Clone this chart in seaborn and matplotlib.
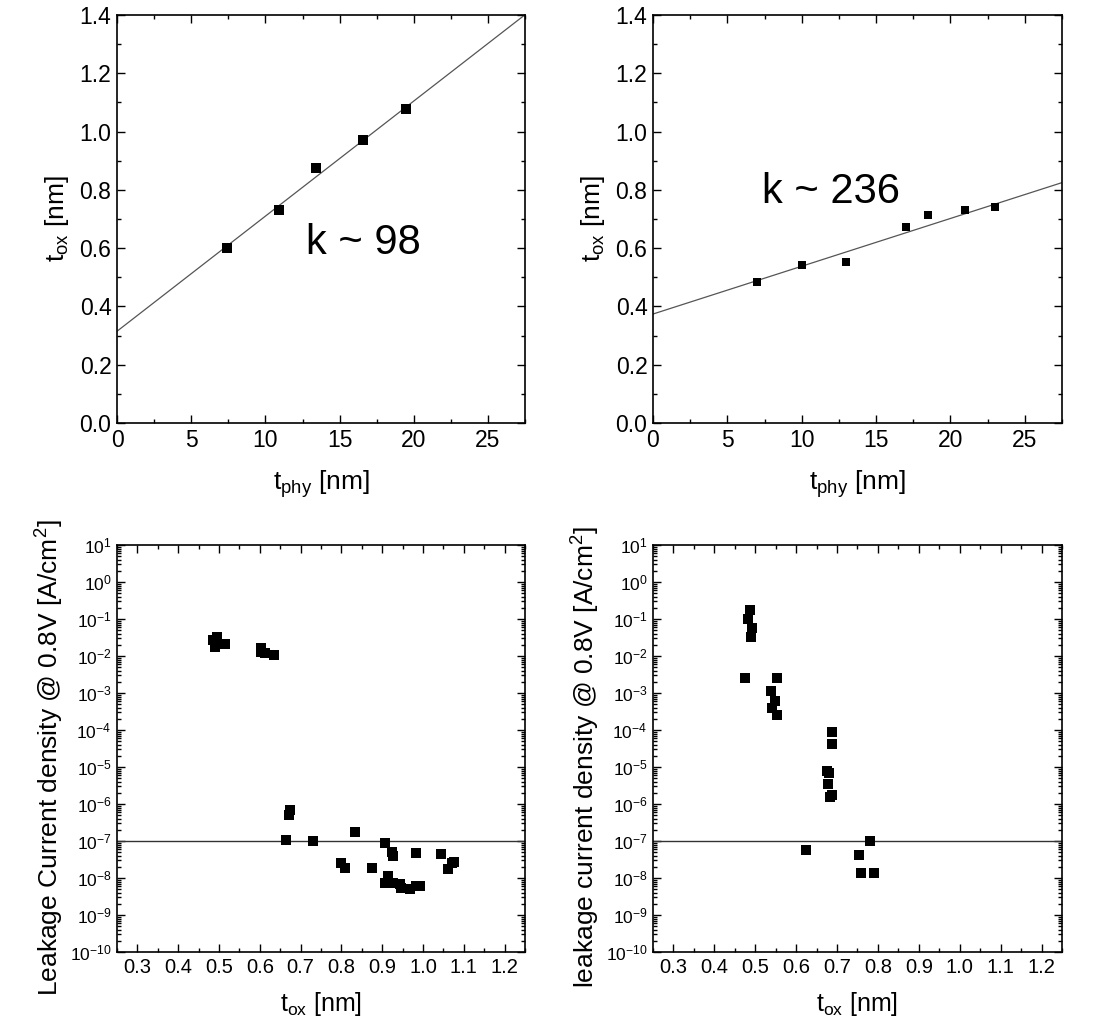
import numpy as np
import pandas as pd
import matplotlib
matplotlib.use("Agg")
import matplotlib.pyplot as plt
import seaborn as sns
from matplotlib.ticker import MultipleLocator, LogLocator, NullFormatter

# --- data ---
# top left: t_ox vs t_phy (k ~ 98)
tphy_a = [7.4, 10.9, 13.4, 16.6, 19.5]
tox_a = [0.602, 0.731, 0.875, 0.971, 1.077]
fit_a = (0.315, 0.0395)   # intercept, slope

# top right: t_ox vs t_phy (k ~ 236)
tphy_b = [7.0, 10.0, 13.0, 17.0, 18.5, 21.0, 23.0]
tox_b = [0.485, 0.543, 0.552, 0.671, 0.714, 0.730, 0.743]
fit_b = (0.374, 0.0164)

# bottom left: leakage vs t_ox
tox_c = [0.485, 0.495, 0.489, 0.515, 0.603, 0.603, 0.613, 0.634,
         0.673, 0.671, 0.664, 0.730, 0.832, 0.798, 0.808, 0.875,
         0.906, 0.923, 0.927, 0.982, 1.044, 1.062, 1.071, 1.077,
         0.915, 0.906, 0.912, 0.927, 0.943, 0.945, 0.969, 0.982, 0.992]
jg_c = [2.7e-2, 3.2e-2, 1.8e-2, 2.1e-2, 1.6e-2, 1.3e-2, 1.2e-2, 1.07e-2,
        6.9e-7, 5.0e-7, 1.07e-7, 1.03e-7, 1.8e-7, 2.6e-8, 1.85e-8, 1.9e-8,
        8.9e-8, 4.9e-8, 4.0e-8, 4.6e-8, 4.5e-8, 1.8e-8, 2.6e-8, 2.7e-8,
        1.1e-8, 7.2e-9, 7.5e-9, 7.2e-9, 6.9e-9, 5.3e-9, 5.0e-9, 6.2e-9, 6.0e-9]

# bottom right: leakage vs t_ox
tox_d = [0.488, 0.483, 0.493, 0.490, 0.475, 0.552, 0.539, 0.548, 0.541, 0.552,
         0.687, 0.687, 0.675, 0.681, 0.677, 0.687, 0.684,
         0.624, 0.781, 0.754, 0.758, 0.790]
jg_d = [0.17, 0.10, 0.057, 0.032, 2.6e-3, 2.6e-3, 1.15e-3, 6.2e-4, 3.9e-4, 2.5e-4,
        8.7e-5, 4.1e-5, 7.7e-6, 7.0e-6, 3.5e-6, 1.7e-6, 1.5e-6,
        5.6e-8, 1.02e-7, 4.3e-8, 1.4e-8, 1.4e-8]
jg_limit = 1e-7

sns.set_style("white")
plt.rcParams['font.family'] = ['Liberation Sans', 'DejaVu Sans']
plt.rcParams['mathtext.default'] = 'regular'
plt.rcParams['text.color'] = 'black'
plt.rcParams['axes.labelcolor'] = 'black'
plt.rcParams['xtick.color'] = 'black'
plt.rcParams['ytick.color'] = 'black'

fig = plt.figure(figsize=(10.98, 10.32), dpi=100)
ax_a = fig.add_axes([0.1066, 0.5901, 0.3716, 0.3953])
ax_b = fig.add_axes([0.5947, 0.5901, 0.3725, 0.3953])
ax_c = fig.add_axes([0.1066, 0.0775, 0.3716, 0.3944])
ax_d = fig.add_axes([0.5947, 0.0775, 0.3725, 0.3944])


def style_axes(ax, tick_size):
    for s in ax.spines.values():
        s.set_linewidth(1.2)
        s.set_color('black')
    ax.tick_params(which='both', direction='in', top=True, right=True,
                   bottom=True, left=True, colors='black', width=1.0)
    ax.tick_params(which='major', length=5.5, labelsize=tick_size, pad=4)
    ax.tick_params(which='minor', length=3)


# top panels
for ax, x, y, fit, ms, txt, tx, ty in [
        (ax_a, tphy_a, tox_a, fit_a, 45, 'k ~ 98', 16.6, 0.618),
        (ax_b, tphy_b, tox_b, fit_b, 28, 'k ~ 236', 12.0, 0.793)]:
    xs = np.array([0, 27.5])
    sns.lineplot(x=xs, y=fit[0] + fit[1] * xs, ax=ax, color='#555555', lw=0.9)
    sns.scatterplot(x=x, y=y, ax=ax, marker='s', color='black', s=ms,
                    linewidth=0, zorder=3)
    ax.set_xlim(0, 27.5)
    ax.set_ylim(0, 1.4)
    ax.xaxis.set_major_locator(MultipleLocator(5))
    ax.xaxis.set_minor_locator(MultipleLocator(2.5))
    ax.yaxis.set_major_locator(MultipleLocator(0.2))
    ax.yaxis.set_minor_locator(MultipleLocator(0.1))
    ax.yaxis.set_major_formatter(matplotlib.ticker.FormatStrFormatter('%.1f'))
    style_axes(ax, 16.5)
    ax.set_xlabel('t$_{phy}$ [nm]', fontsize=19, labelpad=12)
    ax.set_ylabel('t$_{ox}$ [nm]', fontsize=19, labelpad=6)
    ax.text(tx, ty, txt, fontsize=30, ha='center', va='center')

# bottom panels
for ax, x, y, ylab in [
        (ax_c, tox_c, jg_c, 'Leakage Current density @ 0.8V [A/cm$^2$]'),
        (ax_d, tox_d, jg_d, 'leakage current density @ 0.8V [A/cm$^2$]')]:
    ax.axhline(jg_limit, color='#333333', lw=1.0)
    sns.scatterplot(x=x, y=y, ax=ax, marker='s', color='black', s=45,
                    linewidth=0, zorder=3)
    ax.set_yscale('log')
    ax.set_xlim(0.25, 1.25)
    ax.set_ylim(1e-10, 1e1)
    ax.xaxis.set_major_locator(MultipleLocator(0.1))
    ax.xaxis.set_minor_locator(MultipleLocator(0.05))
    ax.xaxis.set_major_formatter(matplotlib.ticker.FormatStrFormatter('%.1f'))
    ax.yaxis.set_major_locator(LogLocator(base=10, numticks=20))
    ax.yaxis.set_minor_locator(LogLocator(base=10, subs=np.arange(2, 10), numticks=20))
    ax.yaxis.set_minor_formatter(NullFormatter())
    style_axes(ax, 14.5)
    ax.tick_params(axis='y', which='major', labelsize=12.5)
    ax.set_xlabel('t$_{ox}$ [nm]', fontsize=18, labelpad=10)
    ax.set_ylabel(ylab, fontsize=19, labelpad=4)
    ax.yaxis.set_label_coords(-0.125, 0.477)

ax_d.yaxis.set_label_coords(-0.125, 0.48)

fig.savefig('out.png', dpi=100)
